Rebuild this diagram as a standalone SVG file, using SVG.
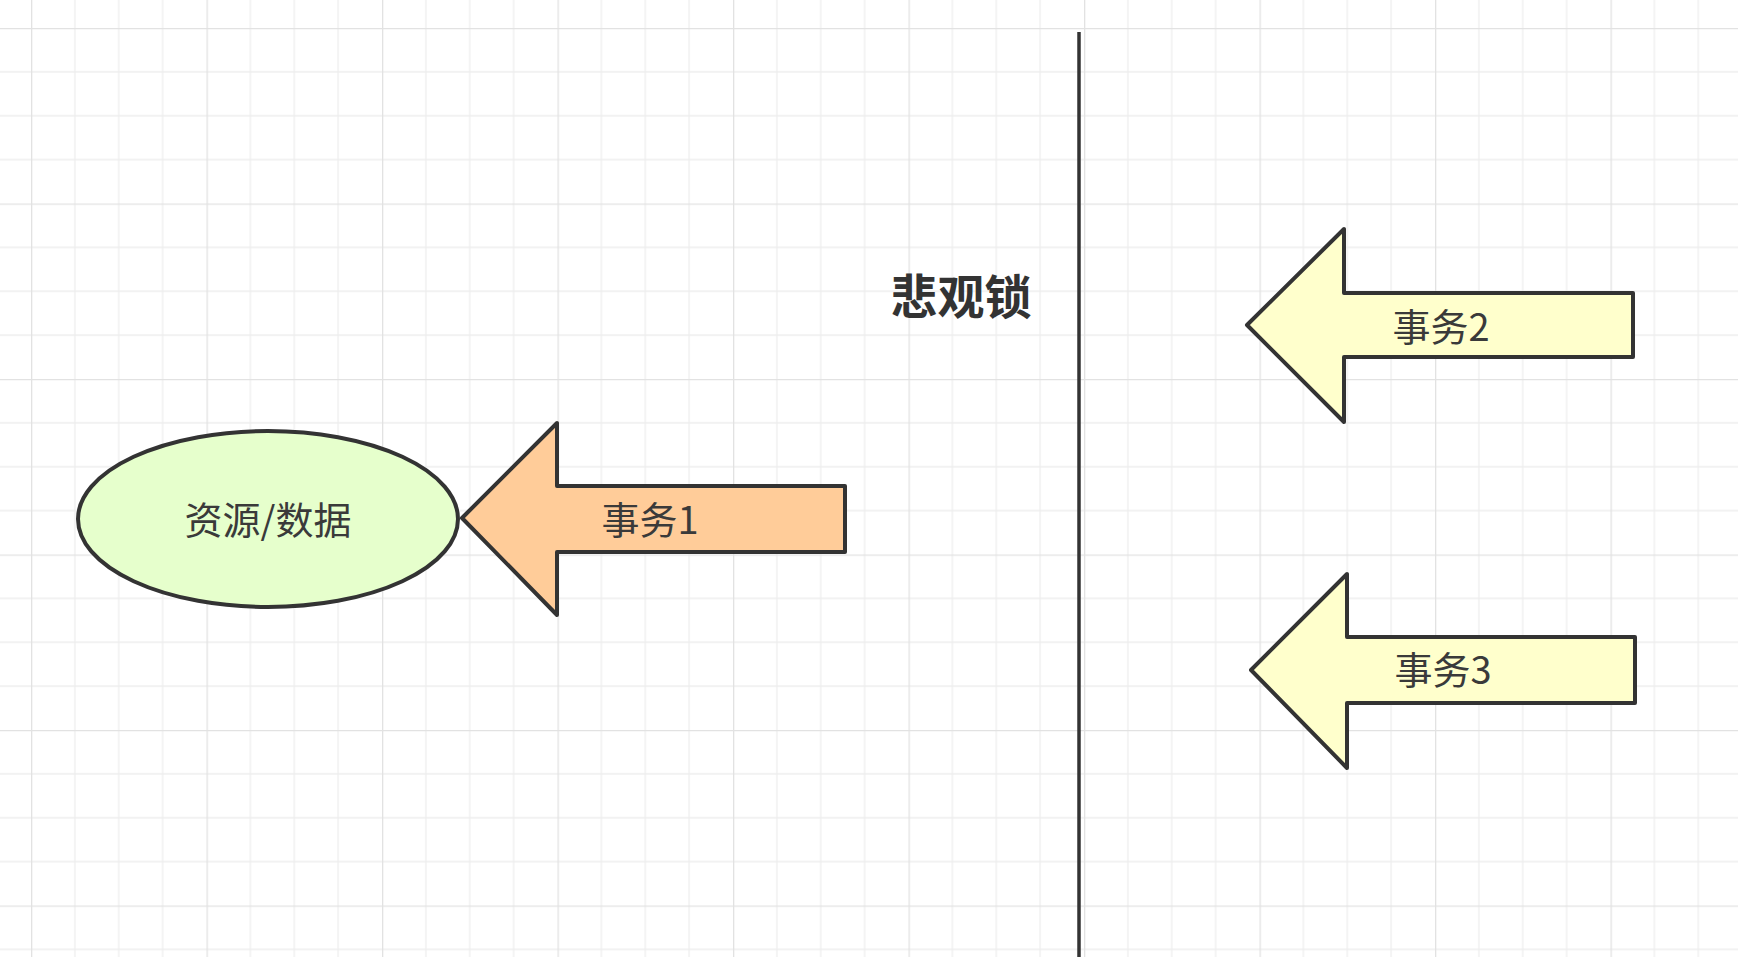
<svg xmlns="http://www.w3.org/2000/svg" width="1761" height="957" viewBox="0 0 1761 957">
  <defs>
    <pattern id="grid" patternUnits="userSpaceOnUse" x="31" y="28" width="175.5" height="175.5">
      <path d="M43.875 0V175.5M87.75 0V175.5M131.625 0V175.5M0 43.875H175.5M0 87.75H175.5M0 131.625H175.5" stroke="#eeeeee" stroke-width="1.3" fill="none"/>
      <path d="M0.5 0V175.5M0 0.5H175.5" stroke="#e2e2e2" stroke-width="1.6" fill="none"/>
    </pattern>
  </defs>
  <style>
    .shape { stroke: #333333; stroke-width: 4; stroke-linejoin: round; }
    .lbl { font-family: "Noto Sans CJK SC", "Liberation Sans", sans-serif; font-size: 38px; fill: #3a3a3a; text-anchor: middle; dominant-baseline: central; }
    .title { font-family: "Noto Sans CJK SC", "Liberation Sans", sans-serif; font-size: 47px; font-weight: bold; fill: #333333; text-anchor: middle; dominant-baseline: central; }
  </style>
  <rect x="0" y="0" width="1761" height="957" fill="#ffffff"/>
  <rect x="0" y="0" width="1738" height="957" fill="url(#grid)"/>

  <g id="connectors">
    <line x1="1079" y1="32" x2="1079" y2="957" stroke="#333333" stroke-width="3.5"/>
  </g>

  <g id="title">
    <text class="title" x="961" y="293">悲观锁</text>
  </g>

  <g id="resource">
    <ellipse class="shape" cx="268" cy="519" rx="190" ry="88" fill="#e6ffcc"/>
    <text class="lbl" x="268" y="517">资源/数据</text>
  </g>

  <g id="tx1">
    <polygon class="shape" points="462,518 557,423 557,486 845,486 845,552 557,552 557,615" fill="#ffcc99"/>
    <text class="lbl" x="650" y="517">事务1</text>
  </g>

  <g id="tx2">
    <polygon class="shape" points="1247,325 1344,229 1344,293 1633,293 1633,357 1344,357 1344,422" fill="#ffffcc"/>
    <text class="lbl" x="1441" y="324">事务2</text>
  </g>

  <g id="tx3">
    <polygon class="shape" points="1251,670 1347,574 1347,637 1635,637 1635,703 1347,703 1347,768" fill="#ffffcc"/>
    <text class="lbl" x="1443" y="667">事务3</text>
  </g>
</svg>
